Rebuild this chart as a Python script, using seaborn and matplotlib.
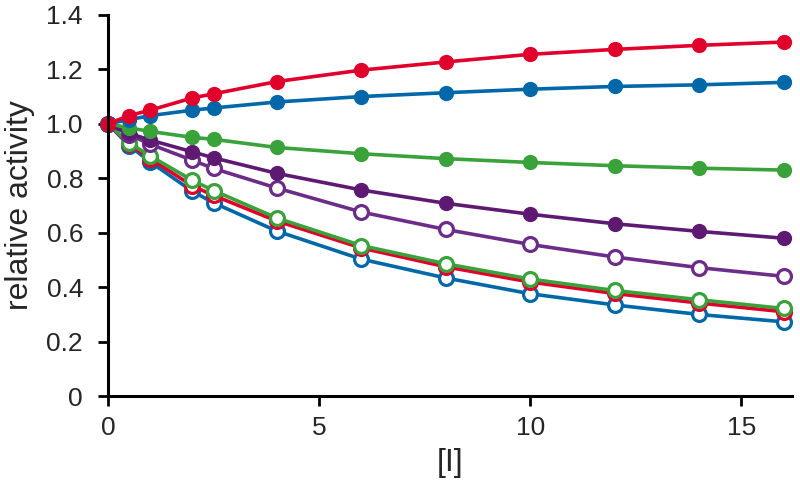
import matplotlib
matplotlib.use("Agg")
import matplotlib.pyplot as plt
import pandas as pd
import seaborn as sns

# %% data
conc = [0, 0.5, 1, 2, 2.5, 4, 6, 8, 10, 12, 14, 16]

red_filled = [1.0, 1.03, 1.05, 1.095, 1.11, 1.155, 1.197, 1.227, 1.255, 1.273, 1.288, 1.30]
blue_filled = [1.0, 1.015, 1.03, 1.05, 1.058, 1.08, 1.10, 1.114, 1.127, 1.137, 1.143, 1.152]
green_filled = [1.0, 0.985, 0.972, 0.95, 0.943, 0.913, 0.89, 0.872, 0.858, 0.846, 0.837, 0.83]
purple_filled = [1.0, 0.965, 0.94, 0.897, 0.875, 0.818, 0.757, 0.708, 0.668, 0.633, 0.605, 0.58]
purple_open = [1.0, 0.96, 0.925, 0.866, 0.836, 0.764, 0.676, 0.612, 0.557, 0.511, 0.472, 0.44]
green_open = [1.0, 0.93, 0.882, 0.792, 0.755, 0.654, 0.553, 0.486, 0.43, 0.388, 0.354, 0.322]
red_open = [1.0, 0.925, 0.872, 0.772, 0.737, 0.643, 0.544, 0.475, 0.419, 0.377, 0.342, 0.31]
blue_open = [1.0, 0.92, 0.86, 0.752, 0.71, 0.606, 0.503, 0.434, 0.376, 0.335, 0.30, 0.273]

RED = "#E0002B"
BLUE = "#0068A8"
GREEN = "#3AA23A"
PURPLE = "#5E1A72"
PURPLE_LT = "#6C2D88"

# drawing order: open series underneath, filled on top
series = [
    ("blue open", blue_open, BLUE, False),
    ("red open", red_open, RED, False),
    ("green open", green_open, GREEN, False),
    ("purple open", purple_open, PURPLE_LT, False),
    ("purple filled", purple_filled, PURPLE, True),
    ("green filled", green_filled, GREEN, True),
    ("blue filled", blue_filled, BLUE, True),
    ("red filled", red_filled, RED, True),
]

# %% plot
sns.set_style("ticks")
plt.rcParams["font.family"] = ["Liberation Sans", "DejaVu Sans"]

fig, ax = plt.subplots(figsize=(8, 4.94), dpi=100)
fig.subplots_adjust(left=0.135, right=0.99, bottom=0.198, top=0.97)

for name, vals, col, filled in series:
    df = pd.DataFrame({"conc": conc, "activity": vals})
    sns.lineplot(
        data=df, x="conc", y="activity", ax=ax, color=col, linewidth=2.6,
        marker="o", markersize=11 if filled else 10,
        markerfacecolor=col if filled else "white",
        markeredgecolor=col, markeredgewidth=0 if filled else 2.3,
        legend=False,
    )

ax.set_xlim(0, 16.2)
ax.set_ylim(0, 1.4)
ax.set_xticks([0, 5, 10, 15])
ax.set_yticks([0, 0.2, 0.4, 0.6, 0.8, 1.0, 1.2, 1.4])
ax.set_yticklabels(["0", "0.2", "0.4", "0.6", "0.8", "1.0", "1.2", "1.4"])
ax.set_xlabel("[I]", fontsize=23, labelpad=6)
ax.set_ylabel("relative activity", fontsize=23, labelpad=8)
ax.tick_params(labelsize=19, width=2, length=7, color="black")
ax.tick_params(axis="y", pad=11)
ax.tick_params(axis="x", pad=7)
for side in ["top", "right"]:
    ax.spines[side].set_visible(False)
for side in ["left", "bottom"]:
    ax.spines[side].set_linewidth(2.2)
    ax.spines[side].set_color("black")
for ln in ax.lines:
    ln.set_clip_on(False)

fig.savefig("out.png", dpi=100)
